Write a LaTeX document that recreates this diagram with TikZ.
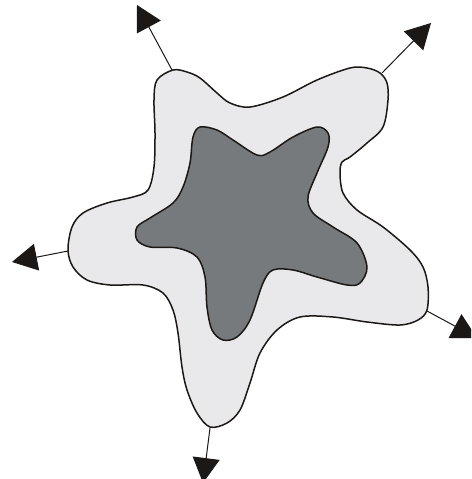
\documentclass[tikz,border=0pt]{standalone}
\usetikzlibrary{arrows.meta}
\definecolor{outerfill}{RGB}{233,233,236}
\definecolor{innerfill}{RGB}{118,122,125}
\definecolor{ink}{RGB}{28,24,22}
\begin{document}
\begin{tikzpicture}[x=1pt,y=-1pt,
  blob/.style={draw=ink,line width=1.5pt,line join=round},
  ray/.style={draw=ink,line width=1pt,-{Triangle[length=25pt,width=27pt]}}]
\useasboundingbox (0,0) rectangle (471,479);
\clip (0,0) rectangle (471,479);
% outer cell
\draw[blob,fill=outerfill] plot[smooth cycle,tension=0.55] coordinates {
 (173,70) (157,80) (154,100) (155,133) (154,167) (148,190) (133,197) (107,203)
 (83,213) (72,227) (68,250) (73,267) (87,280) (110,285) (143,285) (163,293)
 (173,310) (178,333) (182,367) (187,390) (197,413) (210,427) (227,423) (240,410)
 (250,383) (260,353) (277,330) (300,317) (333,317) (367,322) (400,325) (418,320)
 (427,310) (428,287) (423,267) (410,250) (383,227) (357,210) (343,193) (340,173)
 (342,162) (350,157) (367,143) (383,127) (388,100) (387,83) (380,73) (367,68)
 (350,68) (317,80) (283,97) (250,107) (230,103) (217,93) (200,78) (187,72)};
% inner star
\draw[blob,fill=innerfill] plot[smooth cycle,tension=0.55] coordinates {
 (200,127) (217,130) (233,140) (257,155) (270,152) (293,137) (317,127) (328,133)
 (328,147) (317,173) (308,197) (313,213) (333,227) (357,243) (367,267) (360,283)
 (347,285) (317,277) (293,270) (273,270) (263,283) (250,320) (237,337) (223,340)
 (212,330) (207,307) (205,277) (197,257) (177,248) (150,247) (137,240) (137,227)
 (150,218) (173,203) (183,187) (190,163) (193,137)};
% attachment points and tips
\coordinate (a1) at (172,70);  \coordinate (t1) at (137,5);
\coordinate (a2) at (382,73);  \coordinate (t2) at (431,23);
\coordinate (a3) at (68,251);  \coordinate (t3) at (12,262);
\coordinate (a4) at (427,311); \coordinate (t4) at (477,338);
\coordinate (a5) at (210,428); \coordinate (t5) at (203,483);
\draw[ray] (a1) -- (t1);
\draw[ray] (a2) -- (t2);
\draw[ray] (a3) -- (t3);
\draw[ray] (a4) -- (t4);
\draw[ray] (a5) -- (t5);
\end{tikzpicture}
\end{document}
